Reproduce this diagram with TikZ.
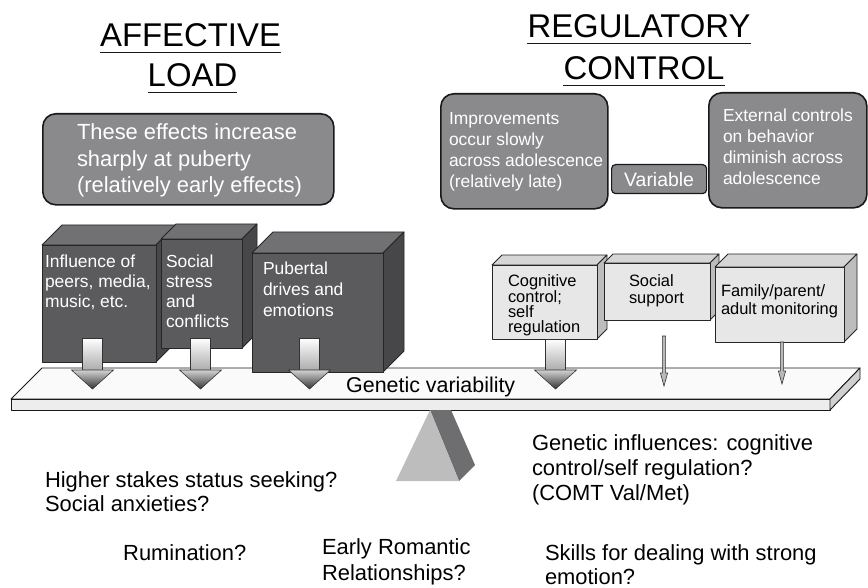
\documentclass[tikz,border=0pt]{standalone}
\usepackage{fontspec}
\setmainfont{Liberation Sans}
\definecolor{dfront}{HTML}{5B5B5D}
\definecolor{dtop}{HTML}{717173}
\definecolor{dside}{HTML}{47474A}
\definecolor{lfront}{HTML}{E7E7E7}
\definecolor{ltop}{HTML}{D6D6D6}
\definecolor{lside}{HTML}{BDBDBD}
\definecolor{rboxfill}{HTML}{8A8A8C}
\definecolor{planktop}{HTML}{FAFAFA}
\definecolor{plankfront}{HTML}{EDEDED}
\definecolor{plankside}{HTML}{D0D0D0}
\definecolor{trifront}{HTML}{BDBDBD}
\definecolor{triside}{HTML}{6E6E70}
\tikzset{
  cubeedge/.style={draw=black!85, line width=0.8bp, line join=round},
  plankedge/.style={draw=black!90, line width=0.9bp, line join=round},
  arrowedge/.style={draw=black!80, line width=0.6bp},
  rbox/.style={draw=black!90, line width=1.6bp, fill=rboxfill, rounded corners=13bp, inner sep=0pt, anchor=north west},
  txt/.style={inner sep=0pt, outer sep=0pt, anchor=north west, align=left},
  wtxt/.style={txt, text=white},
  ttl/.style={inner sep=0pt, anchor=base, font=\fontsize{33}{36}\selectfont},
  uline/.style={line width=1.8bp, draw=black!90},
}
\newcommand\fs[2]{\fontsize{#1}{#2}\selectfont}
\newcommand\st{\rule{0pt}{.75em}}
% x1, y1 (top), x2, y2 (bottom), depth, colour prefix
\newcommand\drawcube[6]{%
  \filldraw[cubeedge, fill=#6top] (#1,#2) -- ({#1+#5},{#2-#5}) -- ({#3+#5},{#2-#5}) -- (#3,#2) -- cycle;
  \filldraw[cubeedge, fill=#6side] (#3,#2) -- ({#3+#5},{#2-#5}) -- ({#3+#5},{#4-#5}) -- (#3,#4) -- cycle;
  \filldraw[cubeedge, fill=#6front] (#1,#2) rectangle (#3,#4);}
% centre x, shaft top
\newcommand\fatarrow[2]{%
  \shade[top color=white, bottom color=gray!65] ({#1-10},#2) rectangle ({#1+10},370);
  \draw[arrowedge] ({#1-10},370) -- ({#1-10},#2) -- ({#1+10},#2) -- ({#1+10},370);
  \shade[top color=gray!35, bottom color=black!80] ({#1-21},370) -- ({#1+21},370) -- (#1,389) -- cycle;
  \draw[arrowedge, line join=miter] ({#1-21},370) -- ({#1+21},370) -- (#1,389) -- cycle;}
% x, top, tip
\newcommand\thinarrow[3]{%
  \filldraw[arrowedge, fill=gray!55] ({#1-1.6},#2) -- ({#1+1.6},#2) -- ({#1+1.6},{#3-13}) -- ({#1+3.6},{#3-13}) -- (#1,#3) -- ({#1-3.6},{#3-13}) -- ({#1-1.6},{#3-13}) -- cycle;}
\begin{document}
\begin{tikzpicture}[x=1bp,y=-1bp]
\useasboundingbox (0,0) rectangle (868,588);

% titles
\node[ttl] (aff) at (190.5,47) {AFFECTIVE};
\draw[uline] ([yshift=-5.5bp]aff.base west) -- ([yshift=-5.5bp]aff.base east);
\node[ttl] (load) at (192.5,87) {LOAD};
\draw[uline] ([yshift=-5.5bp]load.base west) -- ([yshift=-5.5bp]load.base east);
\node[ttl] (reg) at (639,38) {REGULATORY};
\draw[uline] ([yshift=-5.5bp]reg.base west) -- ([yshift=-5.5bp]reg.base east);
\node[ttl] (ctrl) at (644,80) {CONTROL};
\draw[uline] ([yshift=-5.5bp]ctrl.base west) -- ([yshift=-5.5bp]ctrl.base east);

% rounded boxes
\node[rbox, minimum width=291bp, minimum height=91bp] (affbox) at (42,113) {};
\node[wtxt, font=\fs{22}{26.5}] (afftxt) at (77,123.5) {\st These effects increase\\sharply at puberty\\(relatively early effects)};
\node[rbox, minimum width=167bp, minimum height=115bp] (imprbox) at (440,93) {};
\node[wtxt, font=\fs{17.5}{21}] (imprtxt) at (449,111.9) {\st Improvements\\occur slowly\\across adolescence\\(relatively late)};
\node[rbox, minimum width=95bp, minimum height=29bp, rounded corners=4bp, line width=1.2bp, text=white, font=\fs{19.5}{22}] (var) at (611,164) {Variable};
\node[rbox, minimum width=158bp, minimum height=115bp] (extbox) at (708,92) {};
\node[wtxt, font=\fs{17.5}{21}] (exttxt) at (723,108.9) {\st External controls\\on behavior\\diminish across\\adolescence};

% plank
\filldraw[plankedge, fill=planktop] (11,399) -- (42,368) -- (860,368) -- (830,399) -- cycle;
\filldraw[plankedge, fill=plankfront] (11,399) rectangle (830,410);
\filldraw[plankedge, fill=plankside] (830,399) -- (860,368) -- (860,379) -- (830,410) -- cycle;

% fulcrum
\fill[triside] (430,410) -- (451,410) -- (475,465) -- (459,481) -- cycle;
\fill[trifront] (430,410) -- (396,481) -- (459,481) -- cycle;

% affective cubes
\drawcube{42}{245}{156}{362}{20}{d}
\drawcube{161}{239}{242}{348}{15}{d}
\drawcube{252}{253}{383}{372}{21}{d}
\node[wtxt, font=\fs{17.5}{20}] (b1) at (45,254.9) {\st Influence of\\peers, media,\\music, etc.};
\node[wtxt, font=\fs{17.5}{20}] (b2) at (166,254.9) {\st Social\\stress\\and\\conflicts};
\node[wtxt, font=\fs{17.5}{21}] (b3) at (263,261.9) {\st Pubertal\\drives and\\emotions};

% regulatory cubes
\drawcube{492}{265}{597}{339}{10}{l}
\drawcube{604}{263}{710}{320}{9}{l}
\drawcube{715}{267}{844}{342}{13}{l}
\node[txt, font=\fs{16.5}{15.4}] (b4) at (508,274.6) {\st Cognitive\\control;\\self\\regulation};
\node[txt, font=\fs{16.5}{17}] (b5) at (629,274.6) {\st Social\\support};
\node[txt, font=\fs{16.5}{18}] (b6) at (721,284.6) {\st Family/parent/\\adult monitoring};

% arrows
\fatarrow{92.5}{338}
\fatarrow{200.5}{338}
\fatarrow{309.5}{338}
\fatarrow{555.5}{339}
\thinarrow{664}{336}{386}
\thinarrow{782}{342}{384}

\node[anchor=base west, inner sep=0pt, font=\fs{21.5}{24}] (genvar) at (346,392) {Genetic variability};

% bottom texts
\node[txt, font=\fs{22}{24}] (higher) at (45,471.5) {\st Higher stakes status seeking?\\Social anxieties?};
\node[anchor=base west, inner sep=0pt, font=\fs{22}{24}] (rum) at (123,560) {Rumination?};
\node[txt, font=\fs{22}{26}] (early) at (322,538.5) {\st Early Romantic\\Relationships?};
\node[txt, font=\fs{22}{25}] (genin) at (532,434.5) {\st Genetic influences: cognitive\\control/self regulation?\\(COMT Val/Met)};
\node[txt, font=\fs{22}{24}] (skills) at (545,544.5) {\st Skills for dealing with strong\\emotion?};
\end{tikzpicture}
\end{document}
